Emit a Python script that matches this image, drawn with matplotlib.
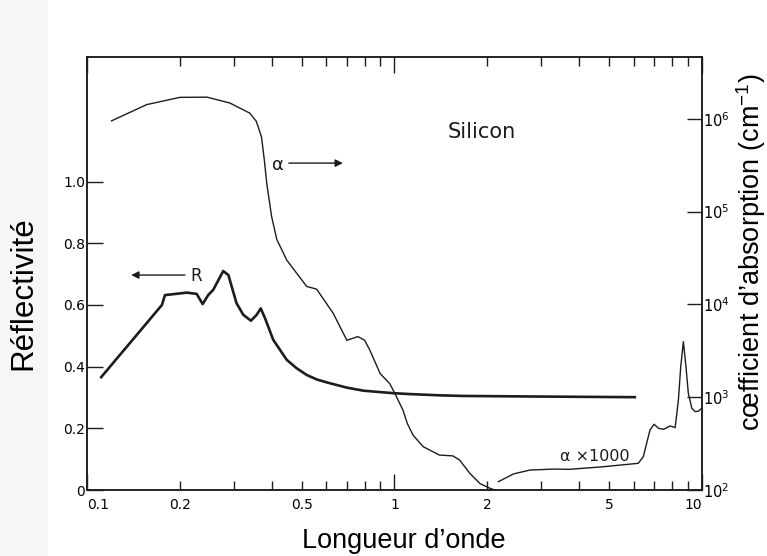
import matplotlib
matplotlib.use("Agg")
import matplotlib.pyplot as plt
from matplotlib.ticker import FixedLocator, FixedFormatter, NullLocator
from matplotlib.patches import Rectangle

plt.rcParams["mathtext.fontset"] = "custom"
plt.rcParams["mathtext.rm"] = "Liberation Sans"
plt.rcParams["mathtext.it"] = "Liberation Sans:italic"

# reflectivity R (thick curve, left axis)
r_wl = [0.111, 0.175, 0.179, 0.211, 0.227, 0.2375, 0.2475, 0.257, 0.277, 0.288,
        0.306, 0.322, 0.341, 0.356, 0.367, 0.379, 0.403, 0.446, 0.48, 0.518,
        0.56, 0.617, 0.70, 0.793, 0.99, 1.125, 1.4, 1.67, 3.0, 6.06]
r_val = [0.366, 0.600, 0.632, 0.640, 0.636, 0.603, 0.632, 0.649, 0.710, 0.697,
         0.606, 0.568, 0.549, 0.568, 0.589, 0.557, 0.487, 0.422, 0.395, 0.373,
         0.358, 0.346, 0.332, 0.322, 0.314, 0.311, 0.307, 0.305, 0.303, 0.301]

# absorption coefficient alpha (thin curve, right axis, cm^-1)
a_wl = [0.120, 0.156, 0.200, 0.245, 0.291, 0.338, 0.355, 0.369, 0.377, 0.384,
        0.398, 0.414, 0.446, 0.518, 0.558, 0.632, 0.700, 0.760, 0.800, 0.832,
        0.898, 0.965, 1.0, 1.066, 1.10, 1.15, 1.24, 1.40, 1.55, 1.63,
        1.76, 1.90, 2.05, 2.12]
a_val = [9.5e5, 1.42e6, 1.70e6, 1.71e6, 1.48e6, 1.15e6, 9.4e5, 6.4e5, 3.6e5, 2.0e5,
         8.9e4, 5.0e4, 3.0e4, 1.56e4, 1.46e4, 8.0e3, 4.1e3, 4.5e3, 4.1e3, 3.2e3,
         1.8e3, 1.4e3, 1.12e3, 724, 525, 389, 293, 238, 233, 210,
         151, 117, 104, 100]

# alpha x 1000 branch
b_wl = [2.18, 2.44, 2.76, 3.29, 3.71, 4.78, 6.22, 6.46, 6.62, 6.79,
        7.0, 7.24, 7.52, 7.9, 8.2, 8.4, 8.55, 8.72, 8.89, 9.05,
        9.29, 9.53, 9.77, 10.0]
b_val = [123, 149, 164, 168, 167, 178, 194, 229, 318, 444,
         511, 462, 451, 490, 470, 933, 2140, 3970, 2140, 1100,
         759, 698, 708, 759]

x_major = [0.1, 1, 10]
x_major_labels = ["0.1", "1", "10"]
x_minor = [0.2, 0.3, 0.4, 0.5, 0.6, 0.7, 0.8, 0.9, 2, 3, 4, 5, 6, 7, 8, 9]
x_minor_labels = ["0.2", "", "", "0.5", "", "", "", "", "2", "", "", "5", "", "", "", ""]
r_ticks = [0, 0.2, 0.4, 0.6, 0.8, 1.0]
r_tick_labels = ["0", "0.2", "0.4", "0.6", "0.8", "1.0"]
a_ticks = [1e2, 1e3, 1e4, 1e5, 1e6]

ink = "#1c1c1c"

fig = plt.figure(figsize=(7.67, 5.56), dpi=100)
fig.patches.append(Rectangle((0, 0), 0.063, 1, transform=fig.transFigure,
                             facecolor="#f6f6f6", edgecolor="none", zorder=-10))
ax = fig.add_axes([0.1138, 0.1187, 0.8010, 0.7782])
ax.patch.set_alpha(0)
ax2 = ax.twinx()

ax2.plot(a_wl, a_val, color=ink, lw=1.0)
ax2.plot(b_wl, b_val, color=ink, lw=1.0)
ax.plot(r_wl, r_val, color=ink, lw=1.9, solid_joinstyle="round")
ax.set_zorder(ax2.get_zorder() + 1)

ax.set_xscale("log")
ax.set_xlim(0.1, 10)
ax.set_ylim(0, 1.403)
ax2.set_yscale("log")
ax2.set_ylim(1e2, 10 ** 6.662)

ax.xaxis.set_major_locator(FixedLocator(x_major))
ax.xaxis.set_major_formatter(FixedFormatter(x_major_labels))
ax.xaxis.set_minor_locator(FixedLocator(x_minor))
ax.xaxis.set_minor_formatter(FixedFormatter(x_minor_labels))
ax.yaxis.set_major_locator(FixedLocator(r_ticks))
ax.yaxis.set_major_formatter(FixedFormatter(r_tick_labels))
ax.yaxis.set_minor_locator(NullLocator())
ax2.yaxis.set_major_locator(FixedLocator(a_ticks))
ax2.yaxis.set_minor_locator(NullLocator())

ax.tick_params(axis="x", which="both", direction="in", top=True, pad=5.5,
               labelsize=10, color=ink, width=1.0)
ax.tick_params(axis="x", which="major", length=11.5)
ax.tick_params(axis="x", which="minor", length=6.5)
ax.tick_params(axis="y", which="major", direction="in", length=11.5, width=1.0,
               pad=1.5, labelsize=10, color=ink)
ax2.tick_params(axis="y", which="major", direction="in", length=11, width=1.0,
                pad=1, labelsize=10.5, color=ink)

labels = ax.get_xticklabels()
labels[0].set_horizontalalignment("left")
labels[-1].set_horizontalalignment("right")

for a in (ax, ax2):
    for s in a.spines.values():
        s.set_linewidth(1.1)
        s.set_color(ink)

ax.text(1.93, 1.161, "Silicon", fontsize=15, ha="center", va="center", color=ink)
ax.text(0.417, 1.054, "α", fontsize=13, ha="center", va="center", color=ink)
ax.annotate("", xy=(0.679, 1.06), xytext=(0.453, 1.06),
            arrowprops=dict(arrowstyle="-|>", color=ink, lw=1.0, mutation_scale=11,
                            shrinkA=0, shrinkB=0))
ax.text(0.227, 0.695, "R", fontsize=12, ha="center", va="center", color=ink)
ax.annotate("", xy=(0.139, 0.697), xytext=(0.208, 0.697),
            arrowprops=dict(arrowstyle="-|>", color=ink, lw=1.0, mutation_scale=11,
                            shrinkA=0, shrinkB=0))
ax.text(4.48, 0.110, "α ×1000", fontsize=11.5, ha="center", va="center", color=ink)

fig.text(0.030, 0.473, "Réflectivité", rotation=90, fontsize=22.5,
         family="Liberation Sans", ha="center", va="center")
fig.text(0.979, 0.547, "cœfficient d’absorption (cm$^{-1}$)", rotation=90, fontsize=19.5,
         family="Liberation Sans", ha="center", va="center")
fig.text(0.527, 0.0144, "Longueur d’onde", fontsize=19.5,
         family="Liberation Sans", ha="center", va="baseline")

fig.savefig("out.png", dpi=100)
